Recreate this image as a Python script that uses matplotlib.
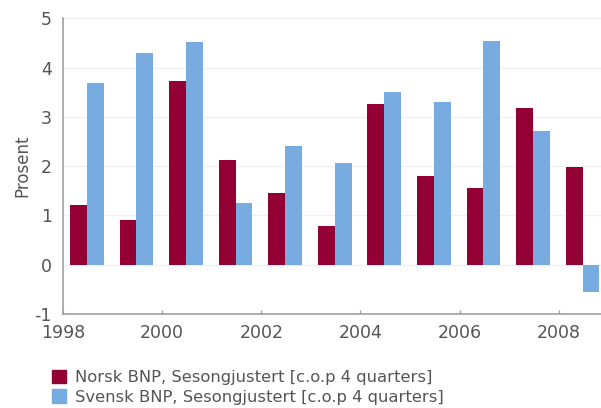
import matplotlib.pyplot as plt
import matplotlib.patches as mpatches

plt.rcParams["axes.unicode_minus"] = False

# BNP-vekst, Norge og Sverige (prosent, c.o.p 4 quarters)
years = [1998, 1999, 2000, 2001, 2002, 2003, 2004, 2005, 2006, 2007, 2008]
norsk = [1.22, 0.90, 3.73, 2.12, 1.45, 0.78, 3.27, 1.80, 1.55, 3.18, 1.99]
svensk = [3.69, 4.29, 4.51, 1.26, 2.41, 2.06, 3.50, 3.30, 4.54, 2.71, -0.56]
x_ticks = [1998, 2000, 2002, 2004, 2006, 2008]

norsk_color = "#930034"
svensk_color = "#78ace0"
text_color = "#555555"
axis_color = "#a0a0a0"

fig = plt.figure(figsize=(6.01, 4.08), dpi=100)
ax = fig.add_axes([0.1048, 0.2304, 0.895, 0.7248])

bar_w = 0.34
ax.bar([y + 0.14 for y in years], norsk, width=bar_w, align="edge",
       color=norsk_color, linewidth=0, zorder=3)
ax.bar([y + 0.14 + bar_w for y in years], svensk, width=bar_w, align="edge",
       color=svensk_color, linewidth=0, zorder=3)

ax.set_xlim(1998, 2008.85)
ax.set_ylim(-1, 5)
ax.set_xticks(x_ticks)
ax.set_xticklabels([str(t) for t in x_ticks])
ax.set_yticks(range(-1, 6))

ax.tick_params(axis="x", colors=axis_color, labelcolor=text_color,
               labelsize=12.5, length=3, width=1, direction="in", pad=7)
ax.tick_params(axis="y", length=0, labelcolor=text_color, labelsize=12.5, pad=8)

ax.grid(axis="y", color="#f0f0f0", linewidth=1, zorder=0)
for side in ("top", "right"):
    ax.spines[side].set_visible(False)
for side in ("left", "bottom"):
    ax.spines[side].set_color(axis_color)
    ax.spines[side].set_linewidth(1.2)

ax.set_ylabel("Prosent", color=text_color, fontsize=12)
ax.yaxis.set_label_coords(-0.058, 0.5)

handles = [
    mpatches.Patch(color=norsk_color, label="Norsk BNP, Sesongjustert [c.o.p 4 quarters]"),
    mpatches.Patch(color=svensk_color, label="Svensk BNP, Sesongjustert [c.o.p 4 quarters]"),
]
leg = fig.legend(handles=handles, loc="lower left", bbox_to_anchor=(0.075, -0.008),
                 frameon=False, fontsize=11.8, handlelength=0.85, handleheight=0.85,
                 handletextpad=0.55, labelspacing=0.25, borderaxespad=0)
for t in leg.get_texts():
    t.set_color(text_color)

plt.savefig("out.png", dpi=100)
